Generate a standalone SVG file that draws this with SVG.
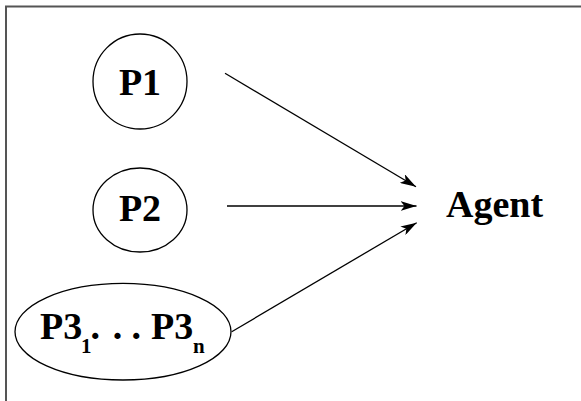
<svg xmlns="http://www.w3.org/2000/svg" width="581" height="401" viewBox="0 0 581 401">
<style>
.node{fill:none;stroke:#000;stroke-width:1.3}
.lbl{font-family:"Liberation Serif","Times New Roman",serif;font-weight:bold;font-size:38px;fill:#000}
.sub{font-size:21px}
.edge{stroke:#000;stroke-width:1.3;fill:none}
</style>
<defs>
<marker id="ah" viewBox="0 0 16 10" refX="16" refY="5" markerWidth="16" markerHeight="10" markerUnits="userSpaceOnUse" orient="auto">
<path d="M0,0 L16,5 L0,10 L4,5 Z" fill="#000"/>
</marker>
</defs>
<rect width="581" height="401" fill="#fff"/>
<rect x="6" y="6.5" width="600" height="420" fill="none" stroke="#555" stroke-width="2"/>
<g id="P1">
<ellipse class="node" cx="140" cy="81.5" rx="47" ry="47.5"/>
<text class="lbl" x="140" y="95" text-anchor="middle">P1</text>
</g>
<g id="P2">
<ellipse class="node" cx="140" cy="210" rx="47" ry="42"/>
<text class="lbl" x="140" y="221" text-anchor="middle">P2</text>
</g>
<g id="P3">
<ellipse class="node" cx="123" cy="331.7" rx="108" ry="48.3"/>
<text class="lbl" x="40" y="339">P3<tspan class="sub" x="81" y="353">1</tspan><tspan x="90.4" y="339">.</tspan><tspan x="112.7">.</tspan><tspan x="131.4">.</tspan><tspan x="151">P3</tspan><tspan class="sub" x="193" y="353" font-size="23">n</tspan></text>
</g>
<g id="Agent">
<text class="lbl" x="446" y="217">Agent</text>
</g>
<g id="connectors">
<line class="edge" x1="225" y1="73.3" x2="416" y2="186.7" marker-end="url(#ah)"/>
<line class="edge" x1="227" y1="206" x2="416.5" y2="206" marker-end="url(#ah)"/>
<line class="edge" x1="231.7" y1="331.7" x2="416.7" y2="222.7" marker-end="url(#ah)"/>
</g>
</svg>
